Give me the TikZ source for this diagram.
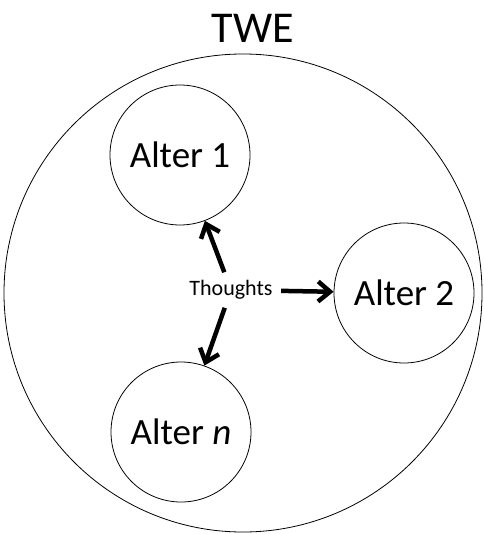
\documentclass[tikz,border=0pt]{standalone}
\usepackage{fontspec}
\setmainfont{Carlito}
\usetikzlibrary{arrows.meta}

\begin{document}
\begin{tikzpicture}[
    x=1pt, y=-1pt,
    world_style/.style={circle, draw, line width=0.8pt, minimum size=478pt, inner sep=0pt},
    alter_style/.style={circle, draw, line width=0.8pt, minimum size=140pt, inner sep=0pt, font=\fontsize{37}{40}\selectfont},
    thought_style/.style={font=\fontsize{22}{24}\selectfont},
    arrow_style/.style={draw, line width=4.5pt, -{Straight Barb[length=12pt, width=20pt]}, shorten <=5pt}
]
  \useasboundingbox (0,0) rectangle (483,534);
  % World and its label
  \node[world_style] (twe) at (243,293) {};
  \node[font=\fontsize{44}{48}\selectfont, anchor=base] (twe_label) at (253,43) {TWE};
  % Alters
  \node[alter_style] (alter_1) at (180,155) {Alter 1};
  \node[alter_style] (alter_2) at (404,293) {Alter 2};
  \node[alter_style] (alter_n) at (181,432) {Alter \textit{n}};
  % Thoughts pointing to each alter
  \node[thought_style] (thoughts) at (231,290) {Thoughts};
  \foreach \a in {alter_1, alter_2, alter_n}
    \draw[arrow_style] (thoughts) -- (\a);
\end{tikzpicture}
\end{document}
